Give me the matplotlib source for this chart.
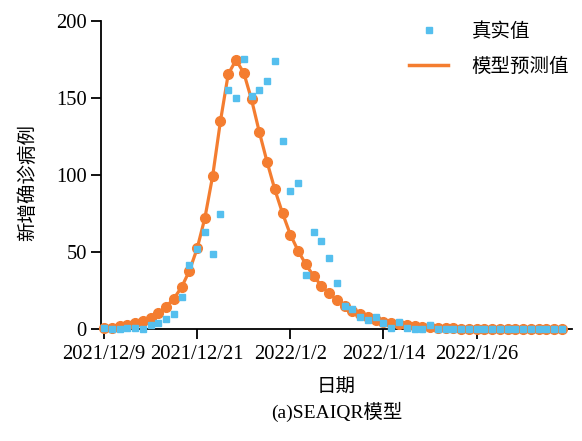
import matplotlib
matplotlib.use("Agg")
import matplotlib.pyplot as plt
from matplotlib.lines import Line2D
import numpy as np

plt.rcParams['font.family'] = ['Liberation Serif', 'Noto Sans CJK SC']

# days since 2021/12/9
days = np.arange(60)
tick_days = [0, 12, 24, 36, 48]
tick_labels = ["2021/12/9", "2021/12/21", "2022/1/2", "2022/1/14", "2022/1/26"]

real = [1, 0, 0, 1, 1, 0, 3, 4, 7, 10, 21, 42, 52, 63, 49, 75, 155, 150, 175, 151,
        155, 161, 174, 122, 90, 95, 35, 63, 57, 46, 30, 15, 13, 8, 6, 8, 4, 1, 5, 1,
        0, 0, 3, 0, 0, 0, 0, 0, 0, 0, 0, 0, 0, 0, 0, 0, 0, 0, 0, 0]
model = [1, 1, 2, 3, 4, 5.6, 7.6, 10.4, 14.7, 20, 27.4, 38, 52.5, 72.4, 99.6, 135, 165.4, 174.5, 166.3, 149,
         128, 108.6, 90.7, 75.2, 61.5, 51, 42.1, 34.6, 28.3, 23.3, 19, 15.3, 12.2, 9.8, 7.8, 6.2, 5, 4, 3.2, 2.6,
         2.1, 1.7, 1.4, 1.1, 0.9, 0.7, 0.6, 0.5, 0.4, 0.3, 0.25, 0.2, 0.15, 0.12, 0.1, 0.08, 0.06, 0.05, 0.04, 0.03]

orange = "#F47D30"
blue = "#55BFEE"

fig = plt.figure(figsize=(5.82, 4.41), dpi=100)
ax = fig.add_axes([0.173, 0.253, 0.81, 0.70])

ax.plot(days, model, color=orange, lw=2.3, marker="o", ms=7, clip_on=False, zorder=3)
ax.plot(days, real, ls="none", marker="s", color=blue, ms=5, clip_on=False, zorder=4)

ax.set_xlim(-0.43, 60.3)
ax.set_ylim(0, 200)
ax.set_xticks(tick_days)
ax.set_xticklabels(tick_labels)
ax.set_yticks([0, 50, 100, 150, 200])

for s in ["top", "right"]:
    ax.spines[s].set_visible(False)
for s in ["left", "bottom"]:
    ax.spines[s].set_linewidth(1.3)
ax.tick_params(direction="out", length=7, width=1.3, labelsize=14.8, pad=3)
ax.tick_params(axis="x", pad=4)

ax.set_ylabel("新增确诊病例", fontsize=14)
ax.yaxis.set_label_coords(-0.135, 0.475)
ax.set_xlabel("日期", fontsize=14)
ax.xaxis.set_label_coords(0.5, -0.16)
fig.text(0.578, 0.066, "(a)SEAIQR模型", ha="center", va="center", fontsize=14)

handles = [Line2D([], [], ls="none", marker="s", color=blue, ms=5),
           Line2D([], [], color=orange, lw=2.5)]
ax.legend(handles, ["真实值", "模型预测值"], loc="upper right", frameon=False,
          fontsize=14, bbox_to_anchor=(1.031, 1.053), handlelength=2, handletextpad=1.2,
          labelspacing=0.9)

fig.savefig("out.png", dpi=100)
